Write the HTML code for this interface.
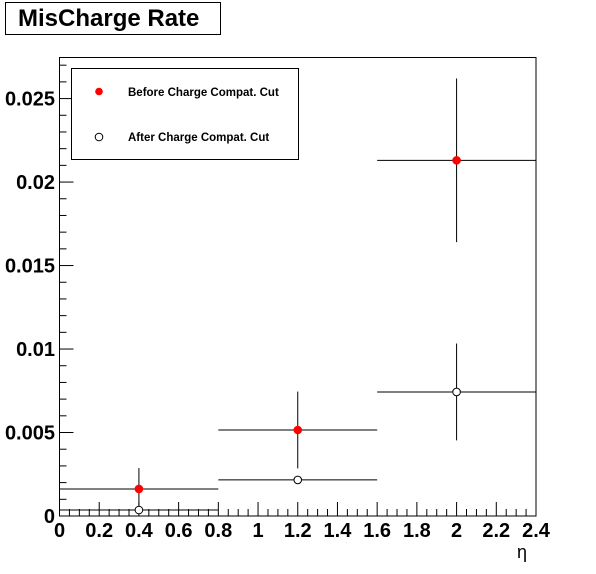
<!DOCTYPE html>
<html><head><meta charset="utf-8"><style>body{margin:0;background:#fff}svg{display:block}text{font-family:"Liberation Sans",sans-serif;font-weight:bold}</style></head>
<body>
<svg width="596" height="574">
<rect x="0" y="0" width="596" height="574" fill="#fff"/>
<rect x="5.5" y="2.5" width="215" height="32" fill="#fff" stroke="#000"/>
<text x="18" y="26" font-size="24">MisCharge Rate</text>
<g id="axes"></g>
<g id="marks"></g>
<rect x="71.5" y="68.5" width="227" height="91" fill="#fff" stroke="#000"/>
<circle cx="99" cy="91.5" r="3.8" fill="red"/>
<text x="128" y="96" font-size="11.5">Before Charge Compat. Cut</text>
<circle cx="99" cy="137" r="3.8" fill="#fff" stroke="#000"/>
<text x="128" y="141" font-size="11.5">After Charge Compat. Cut</text>
<text x="517" y="558" font-size="18" style="font-weight:normal">η</text>
</svg>
<script>
const binLo=[0,0.8,1.6];
const binHi=[0.8,1.6,2.4];
const binCenter=[0.4,1.2,2.0];
const beforeVals=[0.00162,0.00515,0.0213];
const beforeErr=[0.00125,0.0023,0.0049];
const afterVals=[0.00036,0.00216,0.00743];
const afterErr=[0.0001,0.0002,0.0029];
const xTicks=["0","0.2","0.4","0.6","0.8","1","1.2","1.4","1.6","1.8","2","2.2","2.4"];
const yTicks=["0","0.005","0.01","0.015","0.02","0.025"];
const L=59.5,R=536,T=57.5,B=516,XMAX=2.4,YMAX=0.02746;
const X=v=>L+(R-L)*v/XMAX, Y=v=>B-(B-T)*v/YMAX;
const NS="http://www.w3.org/2000/svg";
function mk(p,tag,a){const e=document.createElementNS(NS,tag);for(const k in a)e.setAttribute(k,a[k]);p.appendChild(e);return e;}
const ax=document.getElementById('axes'),mg=document.getElementById('marks');
const fr=mk(ax,'rect',{x:L,y:T,width:R-L,height:B-T,fill:'none',stroke:'#000'});


for(let i=0;i<=48;i++){const v=i*0.05,x=X(v),len=i%4==0?14:7;
 const t=mk(ax,'line',{x1:x,x2:x,y1:B,y2:B-len,stroke:'#000'});
 
 }
xTicks.forEach((s,i)=>{const t=mk(ax,'text',{x:X(parseFloat(s)),y:537,'font-size':20,'text-anchor':'middle'});t.textContent=s;
 
 });
for(let i=0;i<=27;i++){const v=i*0.001,y=Y(v),len=i%5==0?14:7;
 const t=mk(ax,'line',{x1:L,x2:L+len,y1:y,y2:y,stroke:'#000'});
 
 }
yTicks.forEach(s=>{const t=mk(ax,'text',{x:55,y:Y(parseFloat(s))+7,'font-size':20,'text-anchor':'end'});t.textContent=s;
 
 });
function series(vals,errs,name,fill){vals.forEach((v,i)=>{
 const h=mk(mg,'line',{x1:X(binLo[i]),x2:X(binHi[i]),y1:Y(v),y2:Y(v),stroke:'#000'});
 
 
 const e=mk(mg,'line',{x1:X(binCenter[i]),x2:X(binCenter[i]),y1:Y(v+errs[i]),y2:Y(Math.max(0,v-errs[i])),stroke:'#000'});
 
 
 const c=mk(mg,'circle',{cx:X(binCenter[i]),cy:Y(v),r:3.8,fill:fill,stroke:fill=='red'?'red':'#000'});
 
 });}
series(beforeVals,beforeErr,'before','red');
series(afterVals,afterErr,'after','#fff');
</script>
</body></html>
